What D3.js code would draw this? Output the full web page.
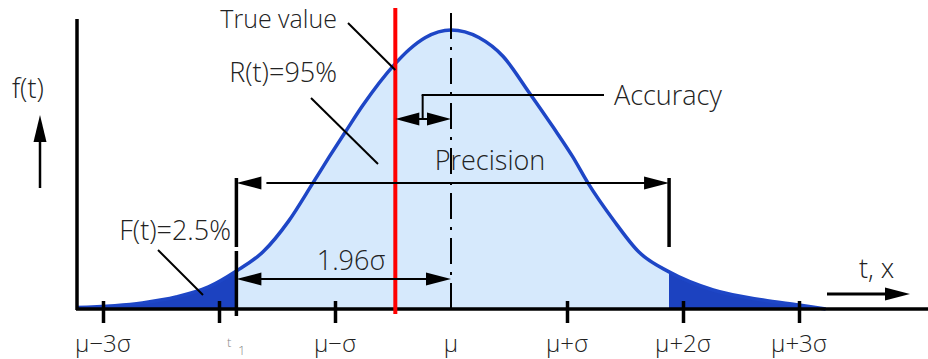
<!DOCTYPE html>
<html>
<head>
<meta charset="utf-8">
<script src="https://cdn.jsdelivr.net/npm/d3@7"></script>
<style>
  body { margin: 0; background: #fff; }
  svg { display: block; }
  text { font-family: "Open Sans", sans-serif; font-weight: 300; fill: #222; }
</style>
</head>
<body>
<script>
// curve: position in sigma units, height relative to the peak
const curveX = [-3.23, -2.66, -2.37, -2.09, -1.85, -1.62, -1.40, -1.19, -1.05, -0.91, -0.76, -0.49, -0.36, -0.22, 0,
                0.24, 0.45, 0.67, 0.88, 1.05, 1.18, 1.40, 1.62, 1.88, 2.26, 2.69, 3.0, 3.23];
const curveY = [0.005, 0.022, 0.043, 0.079, 0.136, 0.205, 0.315, 0.452, 0.545, 0.635, 0.73, 0.875, 0.93, 0.973, 1.0,
                0.973, 0.905, 0.778, 0.652, 0.545, 0.452, 0.319, 0.204, 0.133, 0.068, 0.032, 0.014, 0.0];

// tick marks and labels (sigma units)
const tickMarks = [-3, -2, -1, 1, 2, 3];
const tickLabels = ["μ−3σ", "μ−σ", "μ", "μ+σ", "μ+2σ", "μ+3σ"];
const tickLabelPos = [-3, -1, 0, 1, 2, 3];

// special positions
const bounds = [-1.85, 1.88];   // t1 boundary (F(t)=2.5%) and upper boundary
const trueValue = -0.48;
const mu = 0;

const W = 928, H = 359;
const svg = d3.select("body").append("svg").attr("width", W).attr("height", H);

const x = d3.scaleLinear().domain([-3, 3]).range([103, 799]);
const y = d3.scaleLinear().domain([0, 1]).range([309, 30]);

const pts = curveX.map((d, i) => [d, curveY[i]]);

const area = d3.area().x(d => x(d[0])).y0(y(0)).y1(d => y(d[1])).curve(d3.curveMonotoneX);
const line = d3.line().x(d => x(d[0])).y(d => y(d[1])).curve(d3.curveMonotoneX);

// clip paths for the tails
const defs = svg.append("defs");
defs.append("clipPath").attr("id", "leftTail").append("rect")
  .attr("x", 0).attr("y", 0).attr("width", x(bounds[0])).attr("height", H);
defs.append("clipPath").attr("id", "rightTail").append("rect")
  .attr("x", x(bounds[1])).attr("y", 0).attr("width", W).attr("height", H);

svg.append("path").datum(pts).attr("d", area).attr("fill", "#d6e9fc");
svg.append("path").datum(pts).attr("d", area).attr("fill", "#1c42c0").attr("clip-path", "url(#leftTail)");
svg.append("path").datum(pts).attr("d", area).attr("fill", "#1c42c0").attr("clip-path", "url(#rightTail)");
svg.append("path").datum(pts).attr("d", line).attr("fill", "none")
  .attr("stroke", "#1e46c6").attr("stroke-width", 3.5);

// center (mu) dash-dot line
svg.append("line").attr("x1", x(mu)).attr("x2", x(mu)).attr("y1", 13).attr("y2", 314)
  .attr("stroke", "#000").attr("stroke-width", 2).attr("stroke-dasharray", "26,8,3,8");

// axes
svg.append("line").attr("x1", 77).attr("x2", 77).attr("y1", 19).attr("y2", 310)
  .attr("stroke", "#000").attr("stroke-width", 3.5);

const xAxis = svg.append("g").attr("transform", `translate(0,${y(0)})`)
  .call(d3.axisBottom(x).tickValues(tickMarks).tickFormat(""));
xAxis.select(".domain").remove();
xAxis.selectAll(".tick line").attr("y1", -8).attr("y2", 14)
  .attr("stroke", "#000").attr("stroke-width", 3.5);

svg.append("line").attr("x1", 76).attr("x2", W).attr("y1", y(0)).attr("y2", y(0))
  .attr("stroke", "#000").attr("stroke-width", 3.5);

// tick labels
svg.selectAll(".lab").data(tickLabelPos).enter().append("text")
  .attr("x", d => x(d)).attr("y", 352).attr("text-anchor", "middle")
  .style("font-size", "24px").text((d, i) => tickLabels[i]);
svg.append("text").attr("x", x(-2) + 8).attr("y", 347).style("font-size", "13px").style("fill", "#888").text("t");
svg.append("text").attr("x", x(-2) + 19).attr("y", 355).style("font-size", "13px").style("fill", "#888").text("1");

// true value (red)
svg.append("line").attr("x1", x(trueValue)).attr("x2", x(trueValue)).attr("y1", 8).attr("y2", 314)
  .attr("stroke", "#ff0000").attr("stroke-width", 4);

// helpers
function seg(x1, y1, x2, y2, w) {
  svg.append("line").attr("x1", x1).attr("y1", y1).attr("x2", x2).attr("y2", y2)
    .attr("stroke", "#000").attr("stroke-width", w || 2);
}
function head(tx, ty, dir, len, hw) {
  // dir: "l", "r", "u"
  len = len || 25; hw = hw || 6.5;
  let p;
  if (dir === "l") p = [[tx, ty], [tx + len, ty - hw], [tx + len, ty + hw]];
  else if (dir === "r") p = [[tx, ty], [tx - len, ty - hw], [tx - len, ty + hw]];
  else p = [[tx, ty], [tx - hw, ty + len], [tx + hw, ty + len]];
  svg.append("path").attr("d", "M" + p.join("L") + "Z").attr("fill", "#000");
}
function label(tx, ty, s, anchor, size) {
  svg.append("text").attr("x", tx).attr("y", ty).attr("text-anchor", anchor || "start")
    .style("font-size", (size || 27) + "px").text(s);
}

const xl = x(bounds[0]), xr = x(bounds[1]), xm = x(mu), xt = x(trueValue);

// boundary verticals
seg(xl, 178, xl, 247, 3.5);
seg(xl, 251, xl, 316, 3.5);
seg(xr, 178, xr, 247, 3.5);

// precision arrow
seg(xl + 30, 183, xr - 20, 183, 2);
head(xl, 183, "l");
head(xr, 183, "r");
label(490, 170, "Precision", "middle");

// 1.96 sigma arrow
seg(xl + 20, 279, xm - 20, 279, 2);
head(xl, 279, "l");
head(xm, 279, "r");
label(351, 270, "1.96σ", "middle");

// accuracy
const ax = (xt + xm) / 2 - 0.5;
seg(xt + 20, 119, xm - 20, 119, 2);
head(xt, 119, "l", 24, 6.5);
head(xm, 119, "r", 24, 6.5);
seg(ax, 95, ax, 119, 2);
seg(ax - 1, 95, 604, 95, 2);
label(614, 105, "Accuracy");

// true value label + leader
label(337, 28, "True value", "end", 25);
seg(348, 23, xt, 70, 2);

// R(t)
label(337, 82, "R(t)=95%", "end");
seg(311, 98, 378, 164, 2);

// F(t)
label(231, 240, "F(t)=2.5%", "end");
seg(158, 250, 203, 295, 2);

// f(t) axis label and arrow
label(12, 98, "f(t)");
seg(40, 140, 40, 188, 2.5);
head(40, 115, "u", 27, 6.5);

// t, x
label(859, 278, "t, x");
seg(827, 294, 888, 294, 3);
head(910, 294, "r", 25, 6.5);
</script>
</body>
</html>
